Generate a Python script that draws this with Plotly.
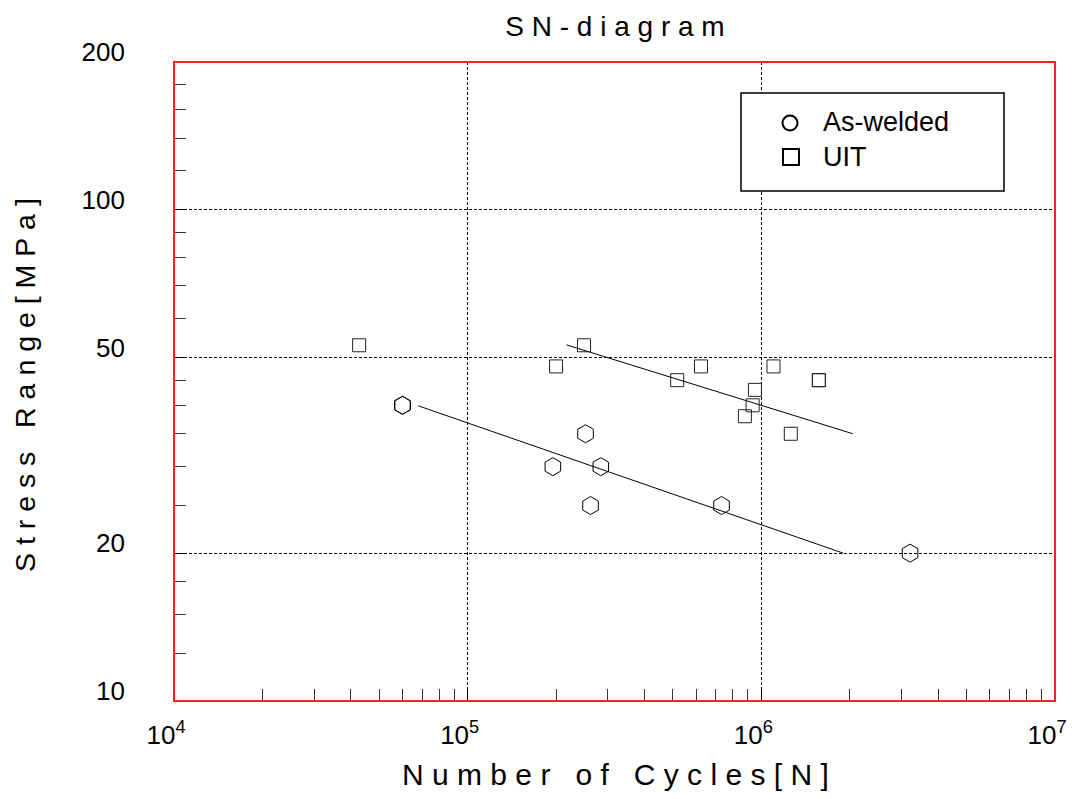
import plotly.graph_objects as go

# ---------------- data ----------------
aw_cycles = [6.0e4, 6.0e4, 1.95e5, 2.52e5, 2.84e5, 2.62e5, 7.32e5, 3.21e6]
aw_stress = [40, 40, 30, 35, 30, 25, 25, 20]

uit_cycles = [4.27e4, 2.49e5, 2.0e5, 5.17e5, 6.23e5, 9.51e5, 9.34e5, 8.79e5, 1.10e6, 1.57e6, 1.57e6, 1.26e6]
uit_stress = [53, 53, 48, 45, 48, 43, 40, 38, 48, 45, 45, 35]

aw_fit_cycles = [6.79e4, 1.90e6]
aw_fit_stress = [39.9, 20.0]
uit_fit_cycles = [2.17e5, 2.05e6]
uit_fit_stress = [53.1, 35.0]

x_major = [1e4, 1e5, 1e6, 1e7]
x_major_text = ["10<sup>4</sup>", "10<sup>5</sup>", "10<sup>6</sup>", "10<sup>7</sup>"]
x_minor = [m * 10 ** e for e in (4, 5, 6) for m in range(2, 10)]
y_major = [10, 20, 50, 100, 200]
y_major_text = ["10", "20", "50", "100", "200"]
y_minor = [12.5, 15, 17.5, 25, 30, 35, 40, 45, 60, 70, 80, 90, 120, 140, 160, 180]

legend_names = ["As-welded", "UIT"]

FONT = "Liberation Sans, Arial, sans-serif"
NB = "\u00a0"


def spaced(words, gap=3):
    return (NB * gap).join(NB.join(w) for w in words)


fig = go.Figure()
fig.add_trace(go.Scatter(x=aw_fit_cycles, y=aw_fit_stress, mode="lines",
                         line=dict(color="black", width=1), showlegend=False, hoverinfo="skip"))
fig.add_trace(go.Scatter(x=uit_fit_cycles, y=uit_fit_stress, mode="lines",
                         line=dict(color="black", width=1), showlegend=False, hoverinfo="skip"))
fig.add_trace(go.Scatter(x=aw_cycles, y=aw_stress, mode="markers", name=legend_names[0],
                         marker=dict(symbol="hexagon-open", size=18, color="black",
                                     line=dict(color="black", width=1)), showlegend=False))
fig.add_trace(go.Scatter(x=uit_cycles, y=uit_stress, mode="markers", name=legend_names[1],
                         marker=dict(symbol="square-open", size=13, color="#222",
                                     line=dict(color="#222", width=1)), showlegend=False))

L, R, T, B = 174, 17, 62, 98
W, H = 1072, 799
pw, ph = W - L - R, H - T - B


def px(xp):
    return (xp - L) / pw


def py(yp):
    return (H - B - yp) / ph


shapes = [
    # legend box
    dict(type="rect", xref="paper", yref="paper", x0=px(741), x1=px(1004), y0=py(191), y1=py(93),
         line=dict(color="black", width=1.5), fillcolor="white", layer="above"),
    dict(type="circle", xref="paper", yref="paper", xsizemode="pixel", ysizemode="pixel",
         xanchor=px(790), yanchor=py(123), x0=-7.5, x1=7.5, y0=-7.5, y1=7.5,
         line=dict(color="black", width=2), layer="above"),
    dict(type="rect", xref="paper", yref="paper", xsizemode="pixel", ysizemode="pixel",
         xanchor=px(791), yanchor=py(157), x0=-8, x1=8, y0=-8, y1=8,
         line=dict(color="black", width=2), layer="above"),
    # red frame
    dict(type="rect", xref="paper", yref="paper", x0=0, x1=1, y0=0, y1=1,
         line=dict(color="#ff2020", width=2), layer="above"),
]

annotations = [
    dict(text=legend_names[0], xref="paper", yref="paper", x=px(821), y=py(122),
         xanchor="left", yanchor="middle", showarrow=False,
         font=dict(family=FONT, size=27, color="black")),
    dict(text=legend_names[1], xref="paper", yref="paper", x=px(821), y=py(157),
         xanchor="left", yanchor="middle", showarrow=False,
         font=dict(family=FONT, size=27, color="black")),
    dict(text=spaced(["Number", "of", "Cycles", "[N]"], 3).replace(NB * 3 + "[", NB + "["),
         xref="paper", yref="paper", x=px(615), y=py(775), xanchor="center", yanchor="middle",
         showarrow=False, font=dict(family=FONT, size=30, color="black")),
    dict(text=spaced(["Stress", "Range", "[MPa]"], 3).replace(NB * 3 + "[", NB + "["),
         xref="paper", yref="paper", x=px(25), y=py(385), xanchor="center", yanchor="middle",
         textangle=-90, showarrow=False, font=dict(family=FONT, size=28.5, color="black")),
]

fig.update_layout(
    width=W, height=H,
    margin=dict(l=L, r=R, t=T, b=B, pad=0, autoexpand=False),
    paper_bgcolor="white", plot_bgcolor="white",
    title=dict(text=spaced(["SN-diagram"]), x=px(615), xanchor="center", xref="paper",
               y=1 - 26 / H, yanchor="middle", yref="container",
               font=dict(family=FONT, size=28, color="black")),
    showlegend=False,
    shapes=shapes, annotations=annotations,
    xaxis=dict(type="log", range=[4, 7], tickmode="array", tickvals=x_major, ticktext=x_major_text,
               ticks="inside", ticklen=12, tickcolor="black", tickwidth=1,
               showgrid=True, gridcolor="black", griddash="3px,2px", gridwidth=1,
               showline=False, zeroline=False, automargin=False,
               tickfont=dict(family=FONT, size=26, color="black"),
               ticklabelstandoff=16, ticklabelshift=-8,
               minor=dict(tickmode="array", tickvals=x_minor, ticks="inside", ticklen=12,
                          tickcolor="#333", tickwidth=1, showgrid=False)),
    yaxis=dict(type="log", range=[1, 2.30103], tickmode="array", tickvals=y_major, ticktext=y_major_text,
               ticks="inside", ticklen=12, tickcolor="black", tickwidth=1,
               showgrid=True, gridcolor="black", griddash="3px,2px", gridwidth=1,
               showline=False, zeroline=False, automargin=False,
               tickfont=dict(family=FONT, size=26, color="black"),
               ticklabelstandoff=48, ticklabelshift=-10,
               minor=dict(tickmode="array", tickvals=y_minor, ticks="inside", ticklen=12,
                          tickcolor="#333", tickwidth=1, showgrid=False)),
)

fig.write_html("out.html")
